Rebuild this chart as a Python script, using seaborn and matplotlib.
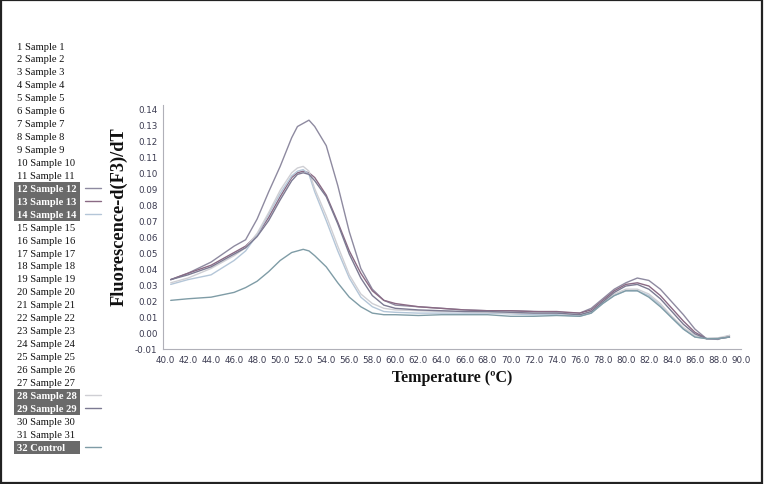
import matplotlib
matplotlib.use("Agg")
import matplotlib.pyplot as plt
import seaborn as sns
import pandas as pd
import numpy as np
from matplotlib.patches import Rectangle
from matplotlib.lines import Line2D

# ---------------- data ----------------
temps = [40.5, 42, 44, 46, 47, 48, 49, 50, 51, 51.5, 52, 52.5, 53, 54, 55, 56, 57, 58, 59, 60,
         62, 64, 66, 68, 70, 72, 74, 76, 77, 78, 79, 80, 81, 82, 83, 84, 85, 86, 87, 88, 89]

sample_12 = [0.033, 0.037, 0.044, 0.054, 0.058, 0.071, 0.088, 0.104, 0.122, 0.129, 0.131, 0.133, 0.129,
             0.117, 0.092, 0.063, 0.040, 0.027, 0.020, 0.017,
             0.016, 0.015, 0.014, 0.0135, 0.0135, 0.013, 0.0125, 0.012, 0.015, 0.021, 0.027, 0.031,
             0.034, 0.0325, 0.027, 0.019, 0.011, 0.002, -0.004, -0.0045, -0.002]
sample_13 = [0.033, 0.037, 0.042, 0.050, 0.054, 0.061, 0.072, 0.085, 0.097, 0.100, 0.101, 0.100, 0.097,
             0.086, 0.069, 0.051, 0.037, 0.026, 0.020, 0.018,
             0.016, 0.015, 0.014, 0.0135, 0.0135, 0.013, 0.013, 0.012, 0.014, 0.020, 0.026, 0.030,
             0.031, 0.029, 0.023, 0.015, 0.007, 0.000, -0.004, -0.004, -0.003]
sample_14 = [0.030, 0.033, 0.036, 0.045, 0.051, 0.061, 0.074, 0.087, 0.098, 0.101, 0.102, 0.099, 0.088,
             0.070, 0.051, 0.034, 0.022, 0.016, 0.013, 0.0125,
             0.012, 0.012, 0.012, 0.012, 0.0115, 0.011, 0.011, 0.010, 0.012, 0.018, 0.023, 0.026,
             0.026, 0.023, 0.017, 0.009, 0.002, -0.003, -0.004, -0.004, -0.003]
sample_28 = [0.031, 0.034, 0.040, 0.048, 0.053, 0.062, 0.075, 0.089, 0.100, 0.103, 0.104, 0.101, 0.090,
             0.073, 0.054, 0.036, 0.024, 0.018, 0.015, 0.014,
             0.0135, 0.013, 0.013, 0.0125, 0.012, 0.012, 0.012, 0.011, 0.013, 0.019, 0.024, 0.027,
             0.027, 0.024, 0.018, 0.010, 0.003, -0.002, -0.004, -0.0035, -0.002]
sample_29 = [0.033, 0.036, 0.041, 0.049, 0.053, 0.060, 0.070, 0.083, 0.095, 0.099, 0.100, 0.099, 0.095,
             0.085, 0.068, 0.049, 0.034, 0.023, 0.017, 0.015,
             0.014, 0.0135, 0.013, 0.013, 0.0125, 0.012, 0.012, 0.011, 0.013, 0.019, 0.025, 0.029,
             0.030, 0.027, 0.021, 0.013, 0.005, -0.001, -0.004, -0.004, -0.003]
control_32 = [0.020, 0.021, 0.022, 0.025, 0.028, 0.032, 0.038, 0.045, 0.050, 0.051, 0.052, 0.051, 0.048,
              0.041, 0.031, 0.022, 0.016, 0.012, 0.011, 0.011,
              0.0105, 0.011, 0.011, 0.011, 0.010, 0.010, 0.0105, 0.010, 0.012, 0.018, 0.023, 0.026,
              0.026, 0.022, 0.016, 0.009, 0.002, -0.003, -0.004, -0.004, -0.003]

series_names = ["12 Sample 12", "13 Sample 13", "14 Sample 14", "28 Sample 28", "29 Sample 29", "32 Control"]
series_values = [sample_12, sample_13, sample_14, sample_28, sample_29, control_32]
series_colors = ["#8e8aa0", "#8a6a84", "#b4c6d8", "#cfcfd4", "#7c7a92", "#7f9ca6"]

legend_labels = [f"{i} Sample {i}" for i in range(1, 32)] + ["32 Control"]
highlighted = {"12 Sample 12": 0, "13 Sample 13": 1, "14 Sample 14": 2,
               "28 Sample 28": 3, "29 Sample 29": 4, "32 Control": 5}

x_ticks = [40 + 2 * i for i in range(26)]
y_ticks = [round(-0.01 + 0.01 * i, 2) for i in range(16)]

# ---------------- build frame ----------------
rows = []
for name, vals in zip(series_names, series_values):
    for t, v in zip(temps, vals):
        rows.append({"Temperature": t, "Value": v, "Sample": name})
df = pd.DataFrame(rows)

sns.set_style("white")
plt.rcParams["font.family"] = ["DejaVu Sans"]

W, H = 764, 485
fig = plt.figure(figsize=(W / 100, H / 100), dpi=100)
ax = fig.add_axes([163 / W, 1 - 350 / H, (741 - 163) / W, (350 - 106) / H])

sns.lineplot(data=df, x="Temperature", y="Value", hue="Sample",
             palette=dict(zip(series_names, series_colors)), ax=ax,
             linewidth=1.0, legend=False, sort=False)

ax.set_xlim(39.83, 90.0)
ax.set_ylim(-0.0105, 0.1425)
ax.set_xticks(x_ticks)
ax.set_xticklabels([f"{t:.1f}" for t in x_ticks])
ax.set_yticks(y_ticks)
ax.set_yticklabels([f"{t:.2f}" for t in y_ticks])
ax.tick_params(axis="both", labelsize=6.3, colors="#9a9aa8", labelcolor="#3a3a50",
               length=2.5, width=0.6, direction="out", pad=1.5)
for s in ["top", "right"]:
    ax.spines[s].set_visible(False)
for s in ["left", "bottom"]:
    ax.spines[s].set_color("#b0b0b8")
    ax.spines[s].set_linewidth(0.8)
ax.set_xlabel("")
ax.set_ylabel("")

serif = ["Liberation Serif", "DejaVu Serif"]
fig.text(119 / W, 1 - 217 / H, "Fluorescence-d(F3)/dT", rotation=90, ha="center", va="center",
         fontsize=13.2, family=serif, color="#111111", fontweight="bold")
fig.text(452 / W, 1 - 378 / H, "Temperature (ºC)", ha="center", va="center",
         fontsize=11.5, family=serif, color="#111111", fontweight="bold")

# ---------------- left sample list ----------------
row_h = 12.94
y0 = 47.0
for i, lab in enumerate(legend_labels):
    yc = y0 + i * row_h
    if lab in highlighted:
        fig.patches.append(Rectangle((14 / W, 1 - (yc + row_h / 2) / H), 66 / W, row_h / H,
                                     transform=fig.transFigure, facecolor="#6a6a6a",
                                     edgecolor="none", zorder=1))
        fig.text(17 / W, 1 - yc / H, lab, ha="left", va="center", fontsize=7.6,
                 family=serif, color="white", fontweight="bold", zorder=3)
        c = series_colors[highlighted[lab]]
        fig.lines.append(Line2D([85 / W, 101 / W], [1 - yc / H, 1 - yc / H],
                                transform=fig.transFigure, color=c, linewidth=1.0))
    else:
        fig.text(17 / W, 1 - yc / H, lab, ha="left", va="center", fontsize=7.6,
                 family=serif, color="#111111", zorder=3)

# figure frame
fig.patches.append(Rectangle((0.0015, 0.002), 0.996, 0.995, transform=fig.transFigure,
                             facecolor="none", edgecolor="#222222", linewidth=1.6, zorder=5))

fig.savefig("out.png", dpi=100)
